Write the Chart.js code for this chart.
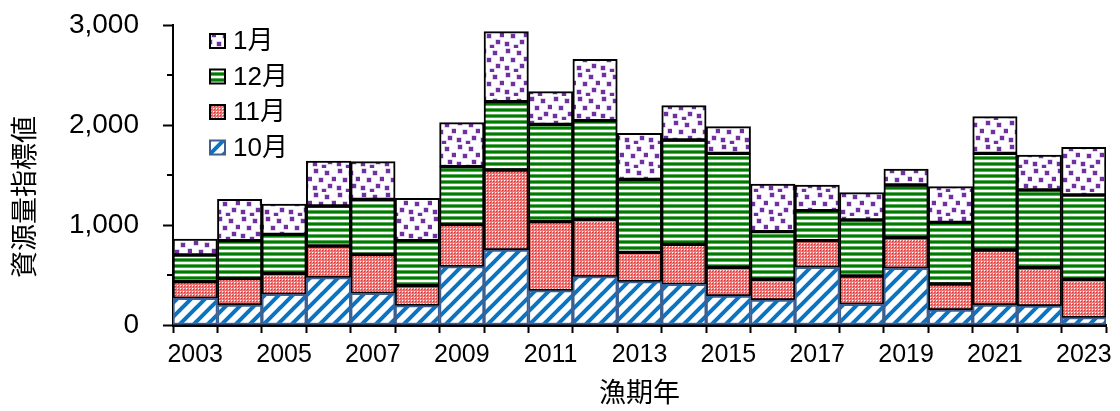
<!DOCTYPE html>
<html lang="ja">
<head>
<meta charset="utf-8">
<script src="https://cdn.jsdelivr.net/npm/chart.js@4.4.1/dist/chart.umd.min.js"></script>
<style>
  html, body { margin: 0; padding: 0; background: #fff; }
  #wrap { width: 1120px; height: 411px; }
</style>
</head>
<body>
<div id="wrap"><canvas id="c" width="1120" height="411"></canvas></div>
<script>
// 漁期年ごとの月別資源量指標値
const years = ['2003','2004','2005','2006','2007','2008','2009','2010','2011','2012','2013',
               '2014','2015','2016','2017','2018','2019','2020','2021','2022','2023'];
const oct = [267, 200, 307, 473, 317, 193, 583, 750, 343, 483, 433, 407, 290, 250, 577, 207, 567, 150, 200, 190, 73];
const nov = [166, 267, 210, 317, 390, 200, 424, 800, 690, 574, 294, 400, 287, 207, 266, 283, 306, 260, 550, 383, 384];
const dec = [267, 376, 390, 400, 550, 450, 576, 683, 974, 986, 730, 1043, 1140, 476, 300, 560, 527, 617, 967, 777, 843];
const jan = [160, 414, 303, 450, 376, 424, 440, 700, 326, 614, 460, 343, 266, 477, 257, 273, 160, 356, 366, 350, 477];
const seriesNames = ['10月', '11月', '12月', '1月'];
const yTicks = [0, 1000, 2000, 3000];
const yMinorTicks = [500, 1500, 2500];
const yTitle = '資源量指標値';

const JP = '"Liberation Sans", Arial, "Noto Sans CJK JP", sans-serif';

// fill patterns
function tile(w, h, draw) {
  const c = document.createElement('canvas');
  c.width = w; c.height = h;
  const g = c.getContext('2d');
  draw(g, w, h);
  return g.createPattern(c, 'repeat');
}
const patOct = tile(14, 14, (g, s) => {
  g.fillStyle = '#fff'; g.fillRect(0, 0, s, s);
  g.strokeStyle = '#0a74c4'; g.lineWidth = 4; g.lineCap = 'square';
  for (let k = -1; k <= 1; k++) {
    g.beginPath(); g.moveTo(k * s, s); g.lineTo(k * s + s, 0); g.stroke();
  }
});
const patNov = tile(3, 3, (g) => {
  const px = [['#ffffff', '#f4a0a0', '#ec6a6a'],
              ['#f4a0a0', '#d83434', '#ec6a6a'],
              ['#ec6a6a', '#ec6a6a', '#f08080']];
  for (let y = 0; y < 3; y++) for (let x = 0; x < 3; x++) { g.fillStyle = px[y][x]; g.fillRect(x, y, 1, 1); }
});
const patDec = tile(4, 6, (g, w) => {
  const rows = ['#5aae5a', '#007a00', '#007a00', '#5aae5a', '#ffffff', '#ffffff'];
  rows.forEach((col, y) => { g.fillStyle = col; g.fillRect(0, y, w, 1); });
});
const patJan = tile(24, 24, (g, s) => {
  g.fillStyle = '#fff'; g.fillRect(0, 0, s, s);
  const pts = [[2, 1], [13, 3], [20, 9], [7, 10], [16, 16], [1, 18], [10, 21]];
  pts.forEach(([x, y]) => {
    g.fillStyle = '#c2a8dc'; g.fillRect(x - 0.5, y - 0.5, 5, 5);
    g.fillStyle = '#7030a0'; g.fillRect(x, y, 4, 4);
  });
});

const fills = [patOct, patNov, patDec, patJan];
const edges = ['#3d5f92', '#000', '#000', '#000'];
const values = [oct, nov, dec, jan];

// 500刻みの短い目盛
const minorTicks = {
  id: 'minorTicks',
  afterDraw(chart) {
    const y = chart.scales.y, ctx = chart.ctx, left = chart.chartArea.left;
    ctx.save();
    ctx.strokeStyle = '#000'; ctx.lineWidth = 2;
    yMinorTicks.forEach(v => {
      const py = Math.round(y.getPixelForValue(v));
      ctx.beginPath(); ctx.moveTo(left - 6, py); ctx.lineTo(left, py); ctx.stroke();
    });
    ctx.restore();
  }
};

// 縦軸タイトル（やや下寄せ）
const yAxisTitle = {
  id: 'yAxisTitle',
  afterDraw(chart) {
    const ctx = chart.ctx, a = chart.chartArea;
    ctx.save();
    ctx.translate(a.left - 146, (a.top + a.bottom) / 2 + 22);
    ctx.rotate(-Math.PI / 2);
    ctx.font = '27px ' + JP;
    ctx.fillStyle = '#000';
    ctx.textAlign = 'center';
    ctx.textBaseline = 'middle';
    ctx.fillText(yTitle, 0, 0);
    ctx.restore();
  }
};

// 凡例（グラフ内左上、上から 1月→10月）
const insideLegend = {
  id: 'insideLegend',
  afterDraw(chart) {
    const ctx = chart.ctx, a = chart.chartArea;
    const ds = chart.data.datasets.slice().reverse();
    ctx.save();
    ctx.font = '26px ' + JP;
    ctx.textBaseline = 'middle';
    ds.forEach((d, i) => {
      const cy = a.top + 16 + i * 35.5;
      const bx = a.left + 37;
      ctx.fillStyle = d.backgroundColor;
      ctx.fillRect(bx, cy - 7, 15, 14);
      ctx.strokeStyle = d.borderColor; ctx.lineWidth = 2;
      ctx.strokeRect(bx, cy - 7, 15, 14);
      ctx.fillStyle = '#000';
      ctx.fillText(d.label, bx + 23, cy + 1);
    });
    ctx.restore();
  }
};

new Chart(document.getElementById('c'), {
  type: 'bar',
  data: {
    labels: years,
    datasets: seriesNames.map((name, i) => ({
      label: name,
      data: values[i],
      backgroundColor: fills[i],
      borderColor: edges[i],
      borderWidth: 2,
      borderSkipped: false,
      categoryPercentage: 1.0,
      barPercentage: 1.0
    }))
  },
  options: {
    responsive: false,
    animation: false,
    layout: { padding: { top: 25, right: 14, left: 0, bottom: 0 } },
    plugins: { legend: { display: false }, tooltip: { enabled: false } },
    scales: {
      x: {
        stacked: true,
        offset: true,
        grid: { display: true, offset: true, drawOnChartArea: false, drawTicks: true,
                tickLength: 8, tickColor: '#000', tickWidth: 2 },
        border: { display: true, color: '#000', width: 3 },
        ticks: {
          autoSkip: false, maxRotation: 0, color: '#000', padding: 7,
          font: { family: '"Liberation Sans", Arial', size: 25 },
          callback: function (v, i) { return i % 2 === 0 ? years[i] : ''; }
        },
        title: { display: true, text: '漁期年', color: '#000', padding: { top: 0, bottom: 0 },
                 font: { family: JP, size: 27 } },
        afterFit(scale) { scale.height = 86; }
      },
      y: {
        stacked: true,
        min: 0, max: 3000,
        afterBuildTicks(scale) { scale.ticks = yTicks.map(v => ({ value: v })); },
        grid: { display: true, drawOnChartArea: false, drawTicks: true,
                tickLength: 10, tickColor: '#000', tickWidth: 2 },
        border: { display: true, color: '#000', width: 2 },
        ticks: {
          color: '#000', padding: 24,
          font: { family: '"Liberation Sans", Arial', size: 28 },
          callback: v => v.toLocaleString('en-US')
        },
        afterFit(scale) { scale.width = 173; scale.paddingTop = 0; scale.paddingBottom = 0; }
      }
    }
  },
  plugins: [minorTicks, yAxisTitle, insideLegend]
});
</script>
</body>
</html>
